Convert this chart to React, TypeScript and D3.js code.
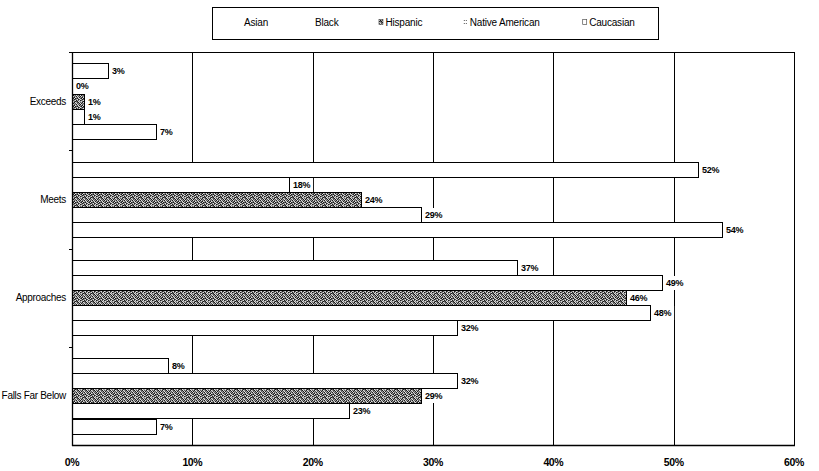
import React from "react";
import * as d3 from "d3";

const categories = ["Exceeds", "Meets", "Approaches", "Falls Far Below"];
const seriesNames = ["Asian", "Black", "Hispanic", "Native American", "Caucasian"];
const asian = [3, 52, 37, 8];
const black = [0, 18, 49, 32];
const hispanic = [1, 24, 46, 29];
const nativeAmerican = [1, 29, 48, 23];
const caucasian = [7, 54, 32, 7];
const seriesValues = [asian, black, hispanic, nativeAmerican, caucasian];
const xTicks = [0, 10, 20, 30, 40, 50, 60];

const W = 819;
const H = 471;
const plot = { left: 72, right: 794, top: 52, bottom: 445 };
const FONT = "'Liberation Sans', Arial, sans-serif";

// dither texture for the Hispanic series (style only)
const DITHER = [
  "03120312",
  "21032130",
  "10301023",
  "32012301",
  "01230213",
  "23101032",
  "12032103",
  "30213120",
];
const DITHER_COLORS = ["#1a1a1a", "#5a5a5a", "#9a9a9a", "#dedede"];

let canvasCtx: CanvasRenderingContext2D | null = null;
function measure(text: string, font: string): number {
  if (!canvasCtx) {
    const c = document.createElement("canvas");
    canvasCtx = c.getContext("2d");
  }
  if (!canvasCtx) return text.length * 5;
  canvasCtx.font = font;
  return canvasCtx.measureText(text).width;
}

export default function App() {
  const x = d3.scaleLinear().domain([0, 60]).range([plot.left, plot.right]);
  const yCat = d3.scaleBand<string>().domain(categories).range([plot.top, plot.bottom]).paddingInner(0).paddingOuter(0);
  const ySer = d3
    .scaleBand<string>()
    .domain(seriesNames)
    .range([0, yCat.bandwidth()])
    .paddingInner(0)
    .paddingOuter(0.75);

  const labelFont = `bold 9px ${FONT}`;

  const legendFontPx = 10;
  const legendFont = `${legendFontPx}px ${FONT}`;
  let lx = 239;
  const legendItems = seriesNames.map((name, i) => {
    const mx = lx;
    const tx = mx + 5;
    const tw = measure(name, legendFont);
    lx = tx + tw + 41;
    return { name, i, mx, tx };
  });

  const fillFor = (i: number) => (i === 2 ? "url(#hisp)" : "#ffffff");

  return (
    <svg width={W} height={H} style={{ position: "absolute", left: 0, top: 0, background: "#fff" }}>
      <defs>
        <pattern id="hisp" width="8" height="8" patternUnits="userSpaceOnUse">
          {DITHER.map((row, ry) =>
            row.split("").map((ch, rx) => (
              <rect key={rx + "-" + ry} x={rx} y={ry} width={1} height={1} fill={DITHER_COLORS[+ch]} />
            ))
          )}
        </pattern>
      </defs>
      <rect width={W} height={H} fill="#fff" />

      {/* Legend */}
      <rect x={212.5} y={7.5} width={446} height={32} fill="#fff" stroke="#000" strokeWidth={1} />
      {legendItems.map((it) => (
        <g key={it.name}>
          {it.i === 2 && (
            <rect x={it.mx - 1.5} y={19.5} width={4} height={5} fill="url(#hisp)" stroke="#444" strokeWidth={0.6} />
          )}
          {it.i === 3 && (
            <g fill="#555">
              <rect x={it.mx - 1} y={20} width={1} height={1} />
              <rect x={it.mx + 1} y={20} width={1} height={1} />
              <rect x={it.mx - 1} y={23} width={1} height={1} />
              <rect x={it.mx + 1} y={23} width={1} height={1} />
            </g>
          )}
          {it.i === 4 && (
            <rect x={it.mx - 1.5} y={19.5} width={4} height={5} fill="#fff" stroke="#555" strokeWidth={0.7} />
          )}
          <text x={it.tx} y={26} fontFamily={FONT} fontSize={legendFontPx} fill="#000" letterSpacing={-0.2}>
            {it.name}
          </text>
        </g>
      ))}

      {/* gridlines */}
      {xTicks.slice(1).map((t) => (
        <line
          key={"g" + t}
          x1={Math.round(x(t)) + 0.5}
          x2={Math.round(x(t)) + 0.5}
          y1={plot.top}
          y2={plot.bottom}
          stroke="#000"
          strokeWidth={1}
        />
      ))}
      <line x1={plot.left} x2={Math.round(x(60)) + 1} y1={plot.top + 0.5} y2={plot.top + 0.5} stroke="#000" strokeWidth={1} />

      {/* bars */}
      {categories.map((cat, ci) =>
        seriesNames.map((s, si) => {
          const v = seriesValues[si][ci];
          const y0 = Math.round((yCat(cat) as number) + (ySer(s) as number));
          const h = Math.round(ySer.bandwidth());
          const w = Math.round(x(v)) - Math.round(x(0));
          if (w <= 0) return null;
          return (
            <rect
              key={cat + s}
              x={Math.round(x(0)) + 0.5}
              y={y0 + 0.5}
              width={w}
              height={h}
              fill={fillFor(si)}
              stroke="#000"
              strokeWidth={1}
            />
          );
        })
      )}

      {/* data labels */}
      {categories.map((cat, ci) =>
        seriesNames.map((s, si) => {
          const v = seriesValues[si][ci];
          const y0 = Math.round((yCat(cat) as number) + (ySer(s) as number));
          const h = Math.round(ySer.bandwidth());
          const txt = `${v}%`;
          const tw = measure(txt, labelFont) - 0.3 * txt.length;
          const tx = Math.round(x(v)) + 4;
          return (
            <g key={"l" + cat + s}>
              <rect x={Math.round(x(v)) + 1} y={y0 + 1} width={tw + 6} height={h - 1} fill="#fff" />
              <text
                x={tx}
                y={y0 + h / 2 + 3.5}
                fontFamily={FONT}
                fontWeight="bold"
                fontSize={9}
                letterSpacing={-0.3}
                fill="#000"
              >
                {txt}
              </text>
            </g>
          );
        })
      )}

      {/* axes */}
      <line x1={plot.left + 0.5} x2={plot.left + 0.5} y1={plot.top} y2={plot.bottom + 1} stroke="#000" strokeWidth={1.3} />
      <line x1={plot.left} x2={Math.round(x(60)) + 1} y1={plot.bottom + 0.5} y2={plot.bottom + 0.5} stroke="#000" strokeWidth={1.3} />
      {categories.map((c, i) => (
        <line
          key={"ct" + i}
          x1={plot.left - 3}
          x2={plot.left}
          y1={Math.round(yCat(c) as number) + 0.5}
          y2={Math.round(yCat(c) as number) + 0.5}
          stroke="#000"
          strokeWidth={1}
        />
      ))}

      {/* category labels */}
      {categories.map((c) => (
        <text
          key={"c" + c}
          x={plot.left - 6}
          y={(yCat(c) as number) + yCat.bandwidth() / 2 + 3.5}
          textAnchor="end"
          fontFamily={FONT}
          fontSize={10}
          letterSpacing={-0.3}
          fill="#000"
        >
          {c}
        </text>
      ))}

      {/* x tick labels */}
      {xTicks.map((t) => (
        <text
          key={"t" + t}
          x={x(t)}
          y={466}
          textAnchor="middle"
          fontFamily={FONT}
          fontWeight="bold"
          fontSize={10.5}
          letterSpacing={-0.4}
          fill="#000"
        >
          {`${t}%`}
        </text>
      ))}
    </svg>
  );
}
